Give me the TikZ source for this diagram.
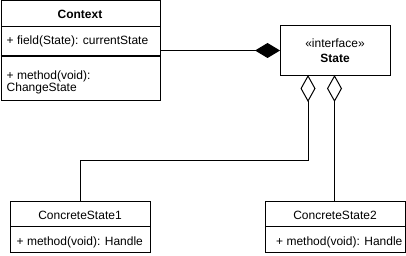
\documentclass[tikz,border=0pt]{standalone}
\usepackage{fontspec}
\setmainfont{Liberation Sans}
\usetikzlibrary{arrows.meta}
\begin{document}
\begin{tikzpicture}[x=1pt,y=-1pt,
  umlbox/.style={draw=black, line width=1pt, fill=white, inner sep=0pt,
    anchor=north west, minimum width=#1},
  umlbox/.default=140pt,
  lbl/.style={font=\fontsize{12}{12.5}\selectfont, inner sep=0pt},
  lblb/.style={font=\fontsize{12}{12.5}\selectfont\bfseries, inner sep=0pt},
  conn/.style={draw=black, line width=1pt},
  composition/.style={conn, -{Diamond[fill=black,length=25pt,width=15pt]}},
  aggregation/.style={conn, {Diamond[open,fill=white,length=27pt,width=15pt]}-}]
\useasboundingbox (0,0) rectangle (406,256);

% Context class: name, attribute and operation compartments
\node[umlbox=159.5pt, minimum height=25.5pt] (ctxHead) at (0.5,0.5) {};
\node[umlbox=159.5pt, minimum height=30pt] (ctxAttr) at (0.5,26) {};
\node[umlbox=159.5pt, minimum height=44pt] (ctxOps) at (0.5,56) {};
\draw[line width=1.6pt] (ctxOps.north west) -- (ctxOps.north east);
\node[lblb, anchor=base] (ctxName) at (80,19) {Context};
\node[lbl, anchor=base west] (ctxField) at (6.5,45) {+ field(State): currentState};
\node[lbl, anchor=base west] (ctxOpA) at (6.5,79.2) {+ method(void):};
\node[lbl, anchor=base west] (ctxOpB) at (6.5,91.4) {ChangeState};

% State interface
\node[umlbox=110pt, minimum height=50pt] (state) at (280,25) {};
\node[lbl, anchor=base] (stateStereo) at (335,47.3) {«interface»};
\node[lblb, anchor=base] (stateName) at (335,62.7) {State};

% Concrete states
\node[umlbox, minimum height=25pt] (cs1Head) at (10,201) {};
\node[umlbox, minimum height=26pt] (cs1Ops) at (10,226) {};
\node[lbl, anchor=base] (cs1Name) at (80,219) {ConcreteState1};
\node[lbl, anchor=base west] (cs1Op) at (16.5,245) {+ method(void): Handle};

\node[umlbox, minimum height=25pt] (cs2Head) at (265,201) {};
\node[umlbox, minimum height=26pt] (cs2Ops) at (265,226) {};
\node[lbl, anchor=base] (cs2Name) at (335,219) {ConcreteState2};
\node[lbl, anchor=base west] (cs2Op) at (276,245) {+ method(void): Handle};

% Relations
\coordinate (ctxOut) at (ctxAttr.east |- 0,50.5);
\coordinate (stateIn) at (state.west |- 0,50.5);
\draw[composition] (ctxOut) -- (stateIn);

\coordinate (agg1) at (308,75);
\coordinate (agg2) at (334.5,75);
\draw[aggregation] (agg1) -- (308,160.5) -| (cs1Head.north -| 80,0);
\draw[aggregation] (agg2) -- (cs2Head.north -| agg2);
\end{tikzpicture}
\end{document}
